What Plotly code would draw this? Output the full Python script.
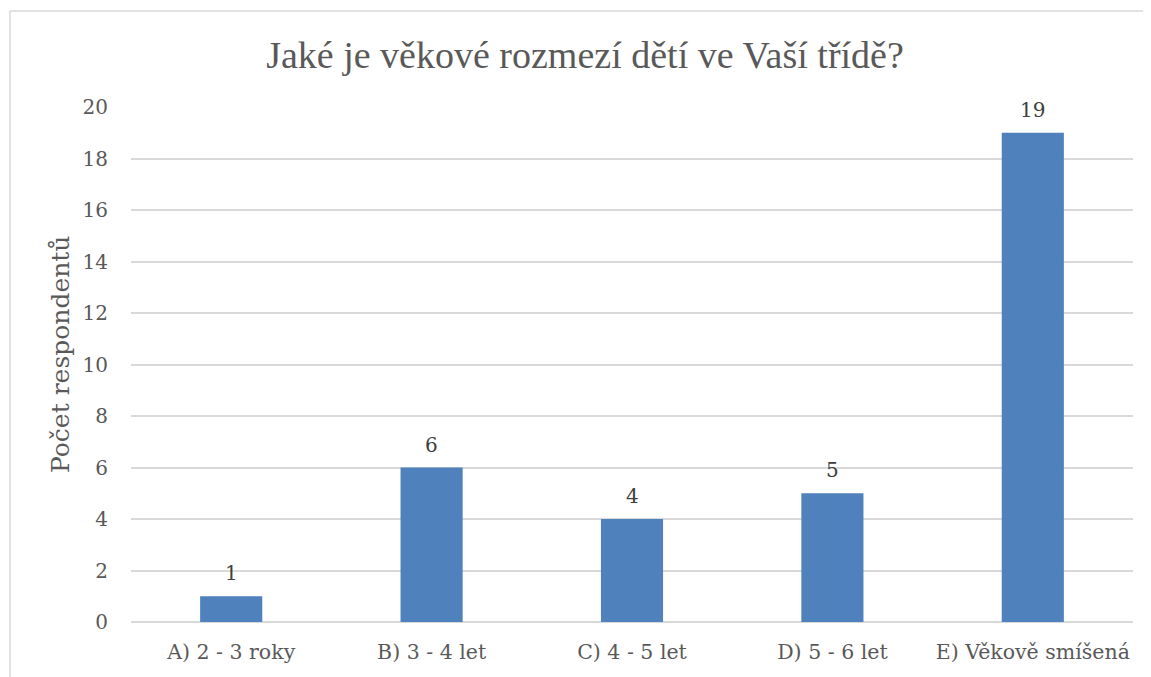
import plotly.graph_objects as go

categories = ["A) 2 - 3 roky", "B) 3 - 4 let", "C) 4 - 5 let", "D) 5 - 6 let", "E) Věkově smíšená"]
values = [1, 6, 4, 5, 19]
y_ticks = [0, 2, 4, 6, 8, 10, 12, 14, 16, 18, 20]

title_text = "Jaké je věkové rozmezí dětí ve Vaší třídě?"
y_title = "Počet respondentů"

TFONT = "Liberation Serif"
FONT = "DejaVu Serif"
GRID = "#d9d9d9"

fig = go.Figure(go.Bar(
    x=categories, y=values,
    marker=dict(color="#4f81bd", line=dict(width=0)),
))

for c, v in zip(categories, values):
    fig.add_annotation(x=c, y=v, text=str(v), showarrow=False, yanchor="bottom", yshift=9,
                       font=dict(family=FONT, size=20, color="#404040"))

# page has 8px body margin; compensate
W, H = 1143, 669
ml, mr, mt, mb = 123, 18, 99, 55
pw, ph = W - ml - mr, H - mt - mb
bx = (2 - ml) / pw
ty = 1 + (mt - 3) / ph

fig.add_annotation(xref="paper", yref="paper", x=(52 - ml) / pw, y=1 - (347 - mt) / ph,
                   xanchor="center", yanchor="middle", textangle=-90, showarrow=False,
                   text=y_title, font=dict(family=FONT, size=25, color="#595959"))

fig.update_layout(
    width=W, height=H,
    margin=dict(l=ml, r=mr, t=mt, b=mb),
    paper_bgcolor="white", plot_bgcolor="white",
    bargap=0.69,
    showlegend=False,
    title=dict(text=title_text, x=577 / W, xanchor="center", y=1 - 47 / H, yanchor="middle",
               font=dict(family=TFONT, size=38, color="#595959")),
    font=dict(family=FONT, color="#595959"),
    xaxis=dict(showgrid=False, showline=False, ticks="outside", ticklen=11, tickcolor="rgba(0,0,0,0)",
               tickfont=dict(size=20.5, color="#595959")),
    yaxis=dict(range=[0, 20], tickvals=y_ticks, showgrid=True, gridcolor=GRID, gridwidth=1.5,
               zeroline=True, zerolinecolor=GRID, zerolinewidth=1.5, showline=False,
               ticks="outside", ticklen=18, tickcolor="rgba(0,0,0,0)",
               tickfont=dict(size=20, color="#595959")),
    shapes=[
        dict(type="line", xref="paper", yref="paper", x0=bx, x1=bx, y0=-0.3, y1=ty,
             line=dict(color=GRID, width=1.5)),
        dict(type="line", xref="paper", yref="paper", x0=bx, x1=1.2, y0=ty, y1=ty,
             line=dict(color=GRID, width=1.5)),
    ],
)

fig.write_html("out.html")
